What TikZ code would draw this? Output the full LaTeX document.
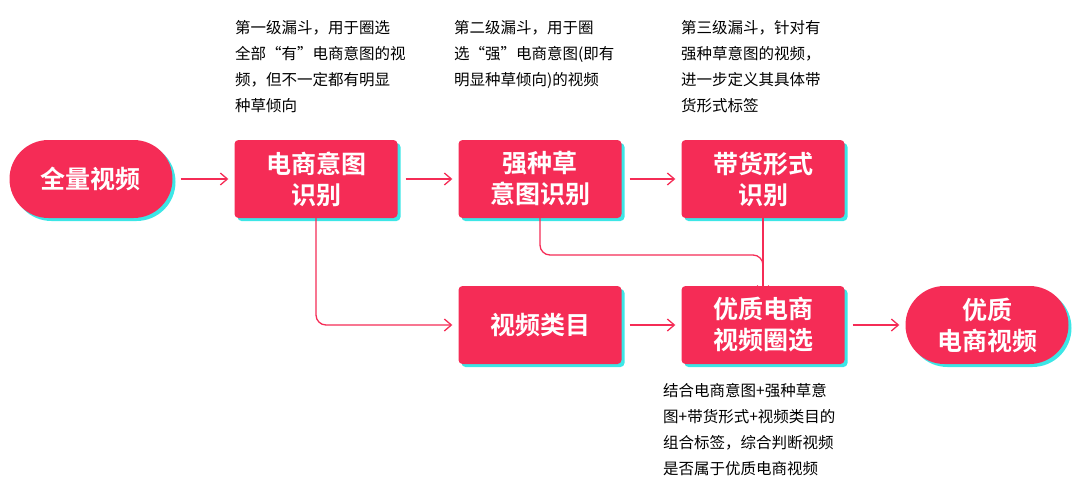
\documentclass[tikz,border=0pt]{standalone}
\usepackage{fontspec}
\newfontfamily\cjk{Noto Sans CJK SC}
\newfontfamily\cjkb{Noto Sans CJK SC Bold}
\usetikzlibrary{arrows.meta,positioning,shadows}
\definecolor{tkred}{HTML}{F52C56}
\definecolor{tkcyan}{HTML}{3CE6E6}
\tikzset{
  box/.style={fill=tkred, rounded corners=4pt, minimum width=163pt, minimum height=78pt,
    text=white, align=center, font=\cjkb\fontsize{25}{31}\selectfont,
    drop shadow={shadow xshift=3pt, shadow yshift=-3pt, fill=tkcyan, opacity=1}},
  pill/.style={box, rounded corners=39pt},
  note/.style={anchor=north west, align=left, inner sep=0pt, font=\cjk\fontsize{15.5}{26}\selectfont},
  flow/.style={draw=tkred, line width=1.3pt, rounded corners=10pt, -{Straight Barb[length=7pt,width=12pt]}}
}
\begin{document}
\begin{tikzpicture}[x=1pt, y=-1pt]
\useasboundingbox (0,0) rectangle (1080,491);
% main boxes
\node[pill] (all) at (91,179) {全量视频};
\node[box] (intent) at (316,179) {电商意图\\识别};
\node[box] (grass) at (540,179) {强种草\\意图识别};
\node[box] (form) at (763,179) {带货形式\\识别};
\node[box] (cat) at (540,325) {视频类目};
\node[box] (sel) at (763,325) {优质电商\\视频圈选};
\node[pill] (out) at (987,325) {优质\\电商视频};
% notes
\node[note] (n1) at (235,20) {第一级漏斗，用于圈选\\全部“有”电商意图的视\\频，但不一定都有明显\\种草倾向};
\node[note] (n2) at (454,20) {第二级漏斗，用于圈\\选“强”电商意图(即有\\明显种草倾向)的视频};
\node[note] (n3) at (681,20) {第三级漏斗，针对有\\强种草意图的视频，\\进一步定义其具体带\\货形式标签};
\node[note] (n4) at (663,383) {结合电商意图+强种草意\\图+带货形式+视频类目的\\组合标签，综合判断视频\\是否属于优质电商视频};
% connectors
\coordinate (join) at (763,255);
\draw[flow] (all.east) ++(8,0) -- ([xshift=-6pt]intent.west);
\draw[flow] ([xshift=8pt]intent.east) -- ([xshift=-6pt]grass.west);
\draw[flow] ([xshift=8pt]grass.east) -- ([xshift=-6pt]form.west);
\draw[flow] ([yshift=10pt]intent.south) |- ([xshift=-6pt]cat.west);
\draw[flow] ([yshift=10pt]grass.south) |- (join) -- ([yshift=-8pt]sel.north);
\draw[flow] ([yshift=10pt]form.south) -- ([yshift=-8pt]sel.north);
\draw[flow] ([xshift=8pt]cat.east) -- ([xshift=-6pt]sel.west);
\draw[flow] ([xshift=8pt]sel.east) -- ([xshift=-6pt]out.west);
\end{tikzpicture}
\end{document}
